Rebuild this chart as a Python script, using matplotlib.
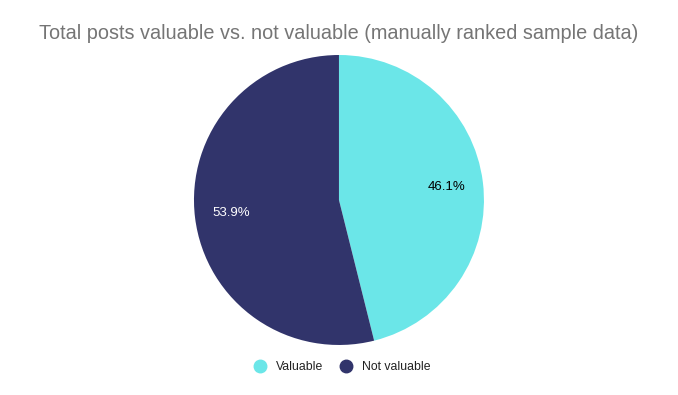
import matplotlib.pyplot as plt
from matplotlib.lines import Line2D

plt.rcParams['font.family'] = ['Liberation Sans', 'DejaVu Sans']

labels = ["Valuable", "Not valuable"]
values = [46.1, 53.9]
colors = ["#6be6e8", "#31346b"]
text_colors = ["#000000", "#ffffff"]

fig = plt.figure(figsize=(6.78, 3.95), dpi=100)
ax = fig.add_axes([0.2861, 0.1266, 0.4277, 0.7342])

wedges, texts, autotexts = ax.pie(values, colors=colors, startangle=90, counterclock=False,
                                  autopct='%1.1f%%', pctdistance=0.75, radius=1.0,
                                  textprops={'fontsize': 9.5})
for t, c in zip(autotexts, text_colors):
    t.set_color(c)
ax.set_xlim(-1, 1)
ax.set_ylim(-1, 1)
ax.set_aspect('equal')

fig.text(0.5, 0.916, "Total posts valuable vs. not valuable (manually ranked sample data)",
         ha='center', va='center', fontsize=14.3, color='#757575')

handles = [Line2D([0], [0], marker='o', linestyle='', markersize=9,
                  markerfacecolor=c, markeredgecolor=c) for c in colors]
fig.legend(handles, labels, loc='center', bbox_to_anchor=(0.5, 0.07), ncol=2,
           frameon=False, fontsize=8.8, handletextpad=0.3, columnspacing=0.9,
           labelcolor='#222222')

fig.savefig("out.png", dpi=100)
